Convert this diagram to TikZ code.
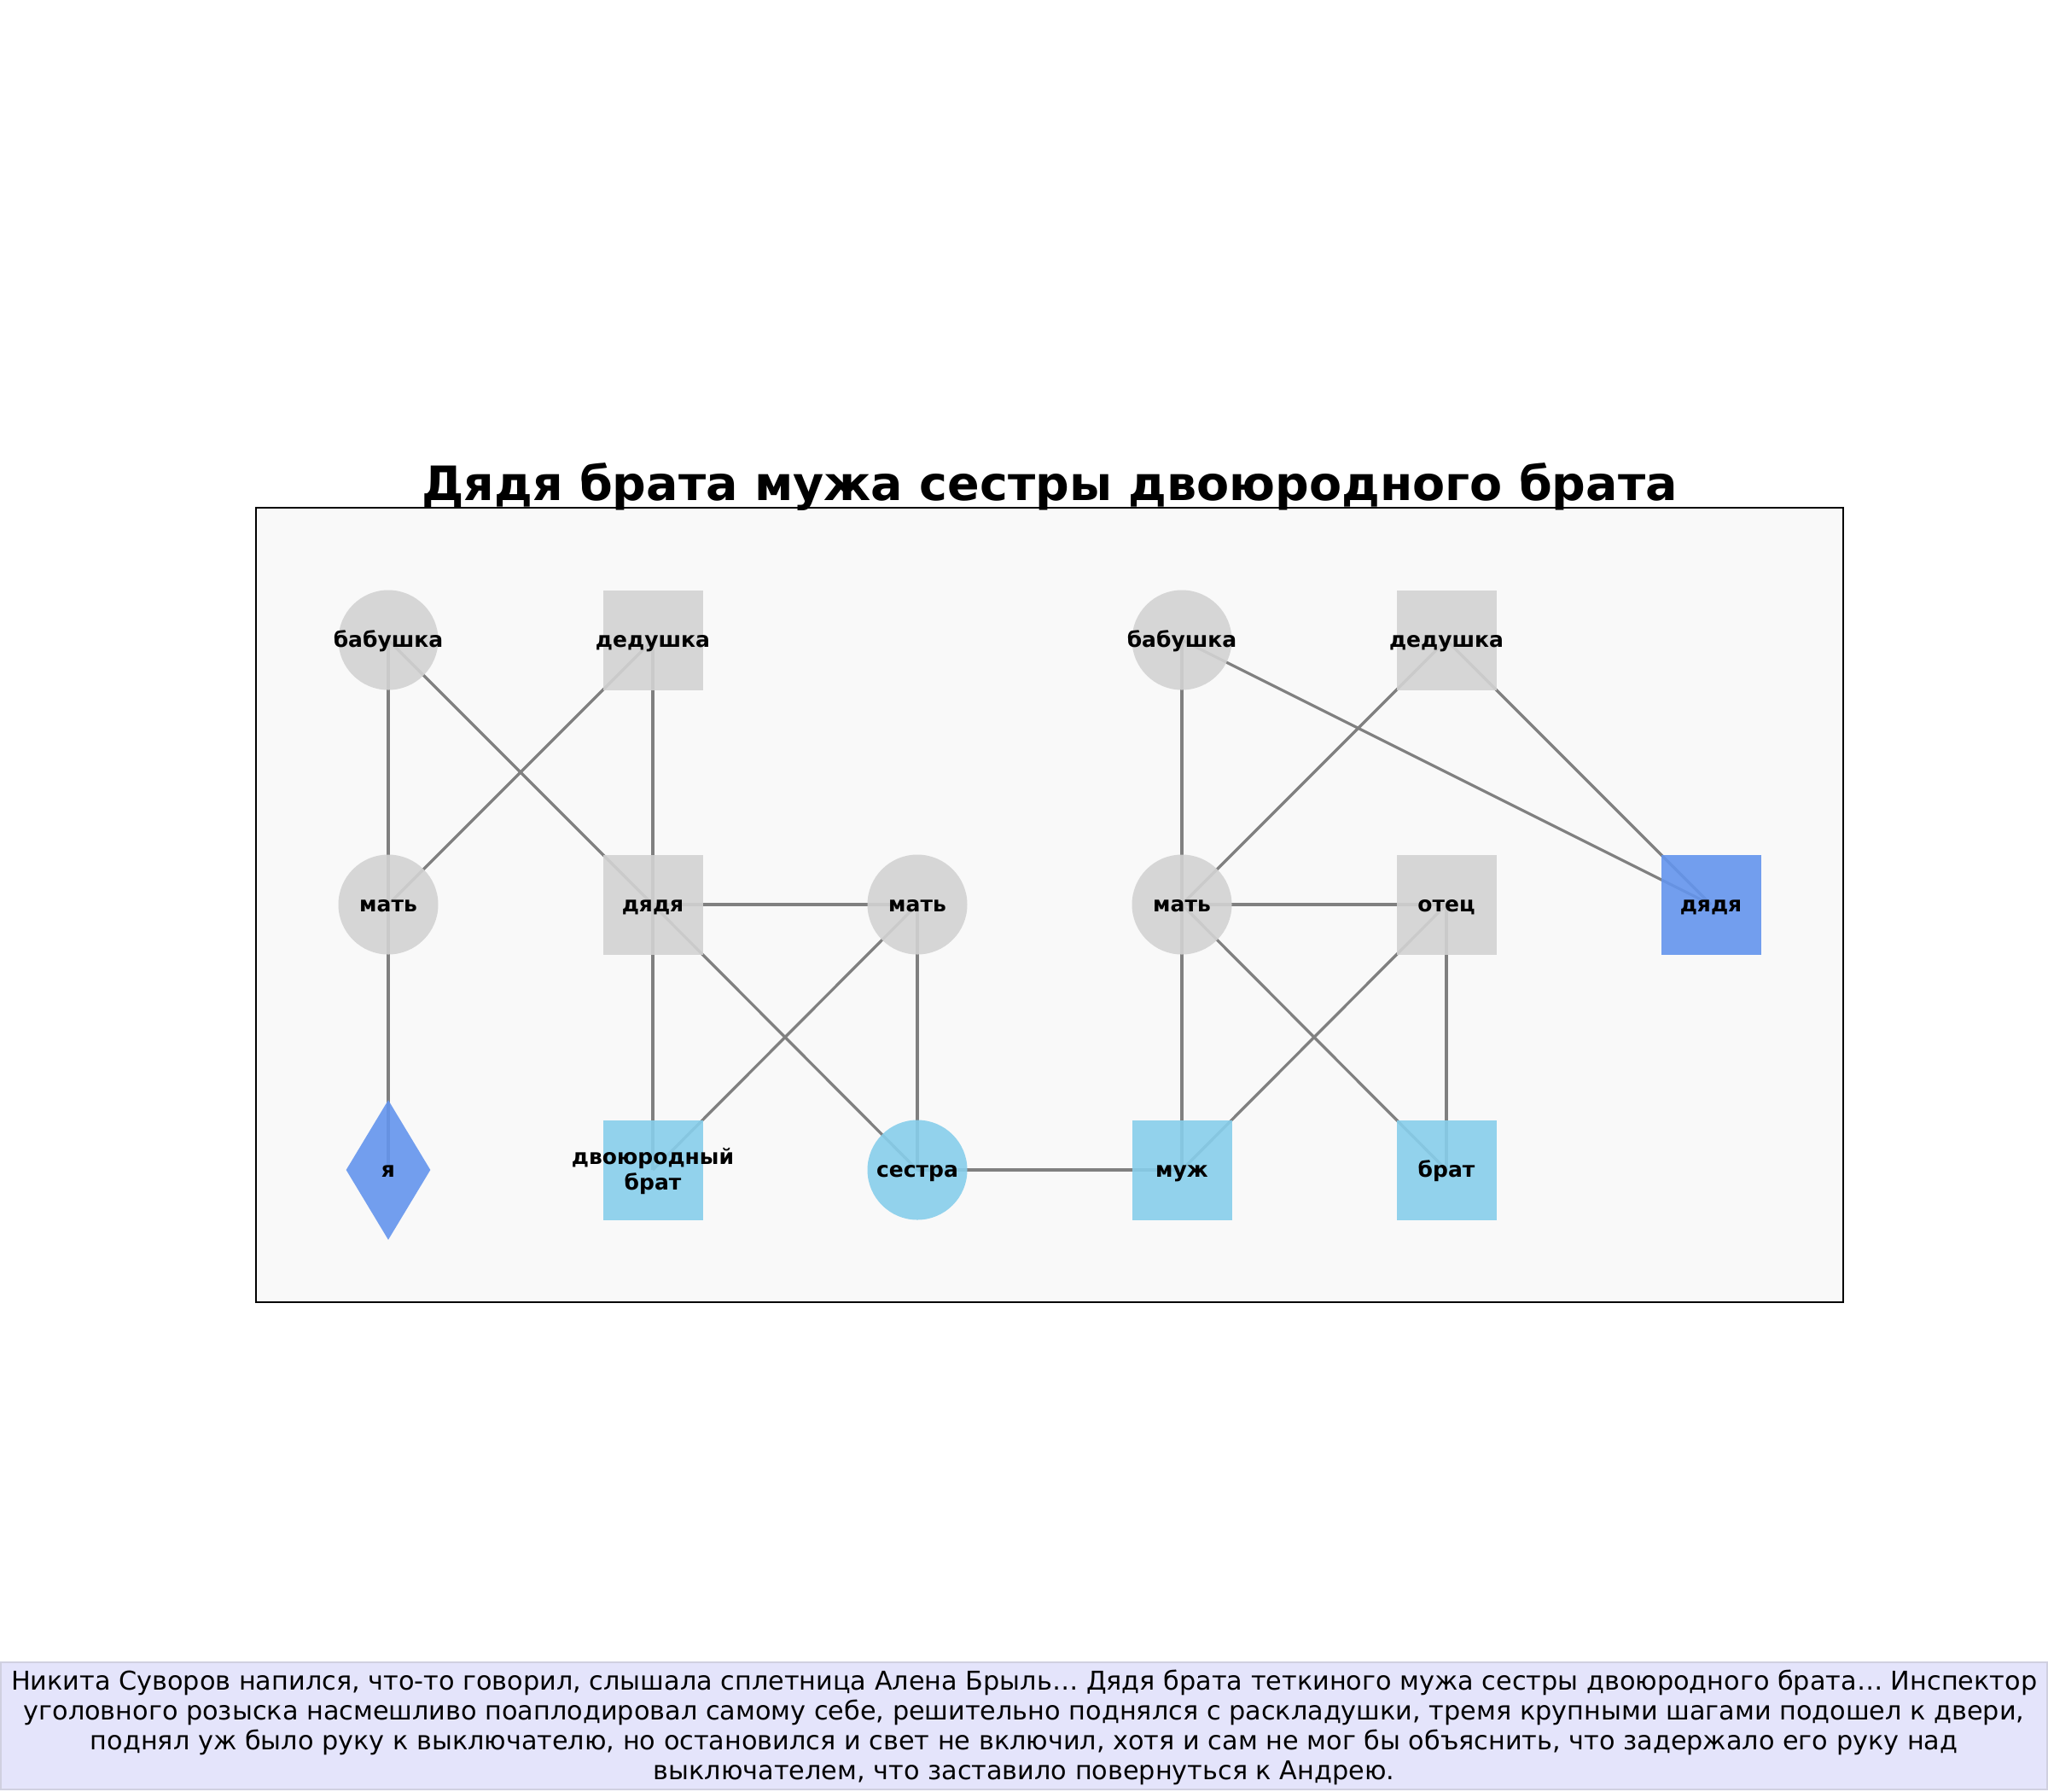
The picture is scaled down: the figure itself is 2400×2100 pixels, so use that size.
\documentclass[tikz,border=0pt]{standalone}
\usepackage{fontspec}
\setmainfont{DejaVu Sans}
\usetikzlibrary{shapes.geometric}
\pgfdeclarelayer{back}
\pgfdeclarelayer{edges}
\pgfsetlayers{back,edges,main}
\definecolor{bgframe}{HTML}{F9F9F9}
\definecolor{lgray}{HTML}{D3D3D3}
\definecolor{skyb}{HTML}{87CEEB}
\definecolor{cblue}{HTML}{6495ED}
\definecolor{edgec}{HTML}{808080}
\definecolor{capfill}{HTML}{E4E4FB}
\definecolor{capborder}{HTML}{D0D0E0}
\tikzset{
  lbl/.style={font=\fontsize{12.5}{15}\selectfont\bfseries, inner sep=0pt, text height=1ex, text depth=0pt, yshift=-1.75pt},
  circ/.style={circle, minimum size=58.5pt, inner sep=0pt, draw=none, fill opacity=0.9, text opacity=1},
  sq/.style={rectangle, minimum size=58.5pt, inner sep=0pt, draw=none, fill opacity=0.9, text opacity=1},
  dia/.style={diamond, minimum width=49.5pt, minimum height=82pt, inner sep=0pt, draw=none, fill opacity=0.9, text opacity=1},
  rel/.style={draw=edgec, line width=1.65pt},
}
\begin{document}
\begin{tikzpicture}[x=0.5pt, y=-0.5pt]
\useasboundingbox (0,0) rectangle (2400,2100);
\begin{pgfonlayer}{back}
\fill[white] (0,0) rectangle (2400,2100);
\draw[fill=bgframe, draw=black, line width=0.6pt] (300,595) rectangle (2160,1526);
\end{pgfonlayer}
% title
\node[font=\fontsize{27.75}{33}\selectfont\bfseries, anchor=base, inner sep=0pt] (title) at (1230,586) {Дядя брата мужа сестры двоюродного брата};
% left family
\node[circ, fill=lgray, label={[lbl]center:бабушка}] (ba1) at (455,750) {};
\node[sq, fill=lgray, label={[lbl]center:дедушка}] (de1) at (765,750) {};
\node[circ, fill=lgray, label={[lbl]center:мать}] (m1) at (455,1060) {};
\node[sq, fill=lgray, label={[lbl]center:дядя}] (dy1) at (765,1060) {};
\node[circ, fill=lgray, label={[lbl]center:мать}] (m2) at (1075,1060) {};
\node[dia, fill=cblue, label={[lbl]center:я}] (me) at (455,1371) {};
\node[sq, fill=skyb, label={[lbl, yshift=7.5pt]center:двоюродный}, label={[lbl, yshift=-7.5pt]center:брат}] (cb) at (765,1371) {};
\node[circ, fill=skyb, label={[lbl]center:сестра}] (sis) at (1075,1371) {};
% right family
\node[circ, fill=lgray, label={[lbl]center:бабушка}] (ba2) at (1385,750) {};
\node[sq, fill=lgray, label={[lbl]center:дедушка}] (de2) at (1695,750) {};
\node[circ, fill=lgray, label={[lbl]center:мать}] (m3) at (1385,1060) {};
\node[sq, fill=lgray, label={[lbl]center:отец}] (fa) at (1695,1060) {};
\node[sq, fill=cblue, label={[lbl]center:дядя}] (dy2) at (2005,1060) {};
\node[sq, fill=skyb, label={[lbl]center:муж}] (hu) at (1385,1371) {};
\node[sq, fill=skyb, label={[lbl]center:брат}] (br) at (1695,1371) {};
% edges
\begin{pgfonlayer}{edges}
\draw[rel] (ba1.center) -- (m1.center);
\draw[rel] (de1.center) -- (m1.center);
\draw[rel] (ba1.center) -- (dy1.center);
\draw[rel] (de1.center) -- (dy1.center);
\draw[rel] (m1.center) -- (me.center);
\draw[rel] (dy1.center) -- (m2.center);
\draw[rel] (dy1.center) -- (cb.center);
\draw[rel] (m2.center) -- (cb.center);
\draw[rel] (dy1.center) -- (sis.center);
\draw[rel] (m2.center) -- (sis.center);
\draw[rel] (sis.center) -- (hu.center);
\draw[rel] (ba2.center) -- (m3.center);
\draw[rel] (de2.center) -- (m3.center);
\draw[rel] (ba2.center) -- (dy2.center);
\draw[rel] (de2.center) -- (dy2.center);
\draw[rel] (m3.center) -- (fa.center);
\draw[rel] (m3.center) -- (hu.center);
\draw[rel] (m3.center) -- (br.center);
\draw[rel] (fa.center) -- (hu.center);
\draw[rel] (fa.center) -- (br.center);
\end{pgfonlayer}
% caption
\begin{pgfonlayer}{back}
\draw[fill=capfill, draw=capborder, line width=0.6pt] (1,1948) rectangle (2399,2097);
\end{pgfonlayer}
\node[font=\fontsize{15.15}{17.5}\selectfont, align=center, inner sep=0pt] (cap) at (1200,2024) {Никита Суворов напился, что-то говорил, слышала сплетница Алена Брыль… Дядя брата теткиного мужа сестры двоюродного брата… Инспектор\\уголовного розыска насмешливо поаплодировал самому себе, решительно поднялся с раскладушки, тремя крупными шагами подошел к двери,\\поднял уж было руку к выключателю, но остановился и свет не включил, хотя и сам не мог бы объяснить, что задержало его руку над\\выключателем, что заставило повернуться к Андрею.};
\end{tikzpicture}
\end{document}
